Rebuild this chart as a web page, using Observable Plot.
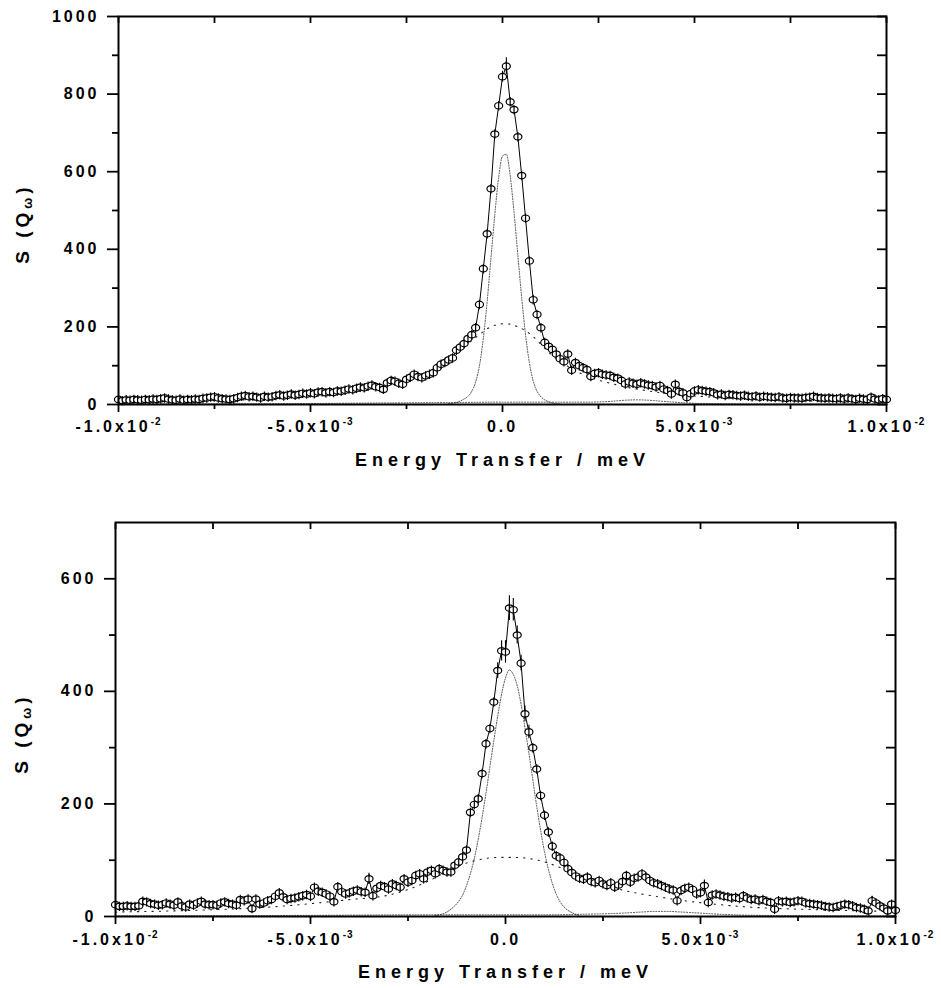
<!DOCTYPE html>
<html>
<head>
<meta charset="utf-8">
<script src="https://cdn.jsdelivr.net/npm/d3@7"></script>
<script src="https://cdn.jsdelivr.net/npm/@observablehq/plot@0.6"></script>
<style>
  html, body { margin: 0; padding: 0; background: #fff; overflow: hidden; }
  #chart svg { display: block; }
</style>
</head>
<body>
<div id="chart"></div>
<script>
// ---------- data ----------
const energyStep = 1e-4;               // meV per channel
const channels = d3.range(-100, 101);  // channel numbers, -0.01 .. 0.01 meV

const xTickValues = [-0.01, -0.005, 0, 0.005, 0.01];
const xTickLabels = ["-1.0x10^-2", "-5.0x10^-3", "0.0", "5.0x10^-3", "1.0x10^-2"];
const xMinorTicks = [-0.0075, -0.0025, 0.0025, 0.0075];
const xAllTicks = [-0.01, -0.0075, -0.005, -0.0025, 0, 0.0025, 0.005, 0.0075, 0.01];

const xTitle = "Energy Transfer / meV";
const yTitle = "S (Qω)";

// top panel
const topYTicks = [0, 200, 400, 600, 800, 1000];
const topYMinor = [100, 300, 500, 700, 900];
const topS = [
  13, 10, 12, 11, 13, 12, 11, 13, 12, 14,
  13, 15, 17, 14, 12, 11, 14, 11, 13, 12,
  14, 13, 16, 17, 19, 20, 17, 15, 14, 13,
  15, 18, 21, 23, 20, 21, 19, 17, 21, 19,
  20, 23, 25, 22, 24, 27, 24, 26, 29, 27,
  30, 28, 32, 33, 30, 33, 31, 35, 34, 37,
  40, 38, 42, 45, 43, 47, 50, 46, 44, 39,
  56, 62, 60, 55, 52, 65, 70, 78, 72, 69,
  74, 78, 82, 95, 104, 108, 115, 120, 140, 148,
  157, 170, 180, 198, 258, 350, 440, 556, 697, 770,
  845,
  872, 780, 760, 690, 590, 480, 370, 270, 232,
  198, 160, 150, 142, 130, 118, 110, 130, 88, 108,
  100, 95, 90, 72, 80, 82, 78, 76, 75, 70,
  68, 62, 53, 58, 55, 52, 56, 53, 50, 49,
  45, 49, 40, 36, 27, 52, 34, 30, 18, 28,
  35, 38, 36, 34, 33, 30, 25, 27, 23, 26,
  25, 23, 22, 24, 21, 20, 22, 19, 21, 20,
  19, 18, 20, 17, 16, 18, 17, 17, 16, 18,
  19, 21, 18, 17, 16, 17, 16, 15, 17, 14,
  17, 15, 13, 16, 14, 13, 19, 14, 12, 15, 13
];
const topElasticCh = d3.range(-14, 16);
const topElastic = [
  2, 3, 5, 9, 14, 21, 34, 58, 100, 170,
  265, 378, 490, 585,
  640,
  645, 590, 495, 385, 275, 180, 108, 60, 34, 20,
  12, 7, 4, 2, 1
];
const topBroadCh = [-100, -80, -60, -40, -30, -20, -16, -12, -10, -8, -6, -4, -2, 0, 2, 4, 6, 8, 10, 12, 16, 20, 30, 40, 60, 80, 100];
const topBroad   = [6, 9, 15, 30, 48, 80, 100, 130, 148, 165, 180, 195, 204, 208, 207, 200, 190, 175, 155, 135, 105, 82, 50, 32, 16, 9, 6];
const topBgCh = [-100, -60, -30, -15, 0, 15, 22, 28, 32, 35, 38, 42, 48, 55, 70, 100];
const topBg   = [1, 2, 4, 5, 6, 6, 6, 8, 11, 12, 11, 8, 4, 2, 1, 1];
const topErrCh = [-1, 0, 1, 2];
const topErr   = [10, 14, 22, 10];

// bottom panel
const bottomYTicks = [0, 200, 400, 600];
const bottomYMinor = [100, 300, 500];
const bottomS = [
  21, 18, 18, 19, 18, 18, 19, 27, 26, 23,
  22, 20, 21, 24, 22, 20, 26, 19, 17, 22,
  20, 24, 27, 22, 21, 21, 20, 24, 26, 23,
  22, 20, 30, 28, 31, 14, 31, 22, 24, 28,
  30, 36, 42, 35, 30, 32, 33, 35, 37, 39,
  36, 52, 45, 43, 40, 36, 26, 53, 44, 40,
  42, 45, 47, 44, 43, 67, 37, 50, 55, 53,
  49, 58, 55, 52, 67, 61, 64, 73, 76, 67,
  79, 82, 76, 85, 82, 79, 79, 91, 97, 106,
  118, 185, 199, 209, 254, 307, 334, 381, 437, 472,
  470,
  548, 545, 500, 450, 360, 328, 300, 262, 215,
  180, 150, 125, 108, 104, 96, 85, 78, 72, 68,
  66, 70, 62, 60, 64, 58, 55, 60, 52, 56,
  62, 73, 61, 68, 70, 76, 70, 64, 60, 58,
  55, 52, 49, 47, 28, 46, 50, 52, 48, 40,
  42, 55, 25, 38, 40, 38, 36, 35, 33, 34,
  32, 37, 33, 30, 31, 28, 30, 27, 25, 13,
  28, 26, 27, 25, 26, 28, 27, 24, 23, 22,
  21, 20, 18, 17, 16, 18, 20, 22, 21, 19,
  16, 15, 13, 10, 28, 24, 19, 15, 10, 22, 11
];
const bottomElasticCh = d3.range(-18, 20);
const bottomElastic = [
  2, 3, 5, 8, 13, 19, 27, 38, 55, 76,
  103, 137, 176, 219, 266, 312, 356, 395, 424,
  438,
  430, 410, 377, 335, 290, 243, 196, 153, 115, 84,
  59, 40, 26, 17, 11, 7, 4, 2
];
const bottomBroadCh = [-100, -80, -60, -40, -30, -20, -15, -10, -6, -2, 2, 6, 10, 15, 20, 30, 40, 60, 80, 100];
const bottomBroad   = [8, 11, 17, 30, 38, 62, 80, 95, 102, 105, 105, 103, 97, 84, 68, 47, 34, 18, 12, 9];
const bottomBgCh = [-100, -50, -20, 10, 20, 30, 35, 38, 42, 45, 50, 55, 65, 100];
const bottomBg   = [1, 2, 3, 3, 4, 6, 8, 9, 9, 8, 6, 4, 2, 1];
const bottomErrCh = [-2, -1, 0, 1, 2, 3, 4, 5, 6, -35, 51, 94];
const bottomErr   = [14, 18, 20, 22, 20, 16, 14, 14, 12, 10, 10, 8];

// ---------- helpers ----------
const series = (ch, vals) => ch.map((c, k) => ({x: c * energyStep, y: vals[k]}));
const errRules = (ch, errs, vals) => ch.map((c, k) => {
  const v = vals[c + 100];
  return {x: c * energyStep, y1: v - errs[k], y2: v + errs[k]};
});

// open ellipse with a vertical error bar through it
const phiSymbol = {
  draw(ctx, size) {
    const r = Math.sqrt(size / Math.PI);
    const rx = r * 1.12, ry = r * 0.9, k = 0.5523;
    ctx.moveTo(rx, 0);
    ctx.bezierCurveTo(rx, ry * k, rx * k, ry, 0, ry);
    ctx.bezierCurveTo(-rx * k, ry, -rx, ry * k, -rx, 0);
    ctx.bezierCurveTo(-rx, -ry * k, -rx * k, -ry, 0, -ry);
    ctx.bezierCurveTo(rx * k, -ry, rx, -ry * k, rx, 0);
    ctx.closePath();
    ctx.moveTo(0, -ry - 1.5);
    ctx.lineTo(0, ry + 1.5);
  }
};

const FONT = "'Liberation Sans', Arial, Helvetica, sans-serif";

function panel(cfg) {
  const data = series(channels, cfg.values);
  const yAll = [...cfg.yTicks, ...cfg.yMinor];
  const svg = Plot.plot({
    width: 941,
    height: cfg.height,
    marginTop: cfg.marginTop,
    marginBottom: cfg.marginBottom,
    marginLeft: cfg.marginLeft,
    marginRight: cfg.marginRight,
    x: {domain: [-0.01, 0.01]},
    y: {domain: [0, cfg.yMax]},
    style: {fontFamily: FONT, fontWeight: "bold", fontSize: "16px", letterSpacing: "3px", background: "white", color: "black", overflow: "visible"},
    marks: [
      Plot.line(series(cfg.broadCh, cfg.broad), {x: "x", y: "y", stroke: "#222", strokeWidth: 1.1, strokeDasharray: "1.3 6", curve: "monotone-x"}),
      Plot.line(series(cfg.bgCh, cfg.bg), {x: "x", y: "y", stroke: "#333", strokeWidth: 0.9, strokeDasharray: "1 1.8", curve: "monotone-x"}),
      Plot.line(series(cfg.elasticCh, cfg.elastic), {x: "x", y: "y", stroke: "#333", strokeWidth: 0.9, strokeDasharray: "1 1.6", curve: "monotone-x"}),
      Plot.line(data, {x: "x", y: "y", stroke: "black", strokeWidth: 1}),
      Plot.ruleX(errRules(cfg.errCh, cfg.err, cfg.values), {x: "x", y1: "y1", y2: "y2", stroke: "black", strokeWidth: 1.1}),
      Plot.dot(data, {x: "x", y: "y", r: 3.6, symbol: phiSymbol, fill: "white", stroke: "black", strokeWidth: 1.2}),
      Plot.frame({stroke: "black", strokeWidth: 2}),
      Plot.axisY(cfg.yTicks, {anchor: "left", tickSize: 11, tickPadding: 8, strokeWidth: 1.8, fontSize: 16, fontWeight: "bold", tickFormat: d => String(d), label: null}),
      Plot.axisY(cfg.yMinor, {anchor: "left", tickSize: 6, strokeWidth: 1.8, tickFormat: () => "", label: null}),
      Plot.axisY(yAll, {anchor: "right", tickSize: -10, strokeWidth: 1.8, tickFormat: () => "", label: null}),
      Plot.axisX(xTickValues, {anchor: "bottom", tickSize: 8, tickPadding: cfg.xPad, strokeWidth: 1.8, fontSize: 16, fontWeight: "bold",
        tickFormat: d => xTickLabels[xTickValues.indexOf(d)], label: null}),
      Plot.axisX(xMinorTicks, {anchor: "bottom", tickSize: 5, strokeWidth: 1.8, tickFormat: () => "", label: null}),
      Plot.axisX(xAllTicks, {anchor: "top", tickSize: -6, strokeWidth: 1.8, tickFormat: () => "", label: null}),
      Plot.text([xTitle], {frameAnchor: "bottom", dy: cfg.titleDy, fontSize: 18, fontWeight: "bold", fill: "black"}),
      Plot.text([yTitle], {frameAnchor: "left", textAnchor: "middle", lineAnchor: "middle", rotate: -90, dx: cfg.yTitleDx, dy: cfg.yTitleDy, fontSize: 19, fontWeight: "bold", fill: "black"})
    ]
  });

  // superscripts in x tick labels, title spacing, subscript omega
  svg.querySelectorAll("text").forEach(t => {
    const s = t.textContent;
    if (s.includes("^")) {
      const [base, exp] = s.split("^");
      t.textContent = "";
      const a = document.createElementNS("http://www.w3.org/2000/svg", "tspan");
      a.textContent = base;
      const b = document.createElementNS("http://www.w3.org/2000/svg", "tspan");
      b.textContent = exp;
      b.setAttribute("font-size", "10");
      b.setAttribute("dy", "-7");
      b.style.letterSpacing = "1px";
      t.appendChild(a); t.appendChild(b);
    } else if (s === xTitle) {
      t.style.letterSpacing = "5px";
    } else if (s === yTitle) {
      t.textContent = "";
      const parts = [["S (Q", null, null], ["ω", "13", "3"], [")", null, "-3"]];
      for (const [txt, fs, dy] of parts) {
        const sp = document.createElementNS("http://www.w3.org/2000/svg", "tspan");
        sp.textContent = txt;
        if (fs) sp.setAttribute("font-size", fs);
        if (dy) sp.setAttribute("dy", dy);
        t.appendChild(sp);
      }
      t.style.letterSpacing = "4px";
    }
  });
  return svg;
}

const chart = document.getElementById("chart");
chart.appendChild(panel({
  values: topS, yMax: 1000, yTicks: topYTicks, yMinor: topYMinor,
  elasticCh: topElasticCh, elastic: topElastic,
  broadCh: topBroadCh, broad: topBroad, bgCh: topBgCh, bg: topBg,
  errCh: topErrCh, err: topErr,
  height: 480, marginTop: 16, marginBottom: 76, marginLeft: 118, marginRight: 55,
  xPad: 8, titleDy: 61, yTitleDx: -96, yTitleDy: 13
}));
chart.appendChild(panel({
  values: bottomS, yMax: 700, yTicks: bottomYTicks, yMinor: bottomYMinor,
  elasticCh: bottomElasticCh, elastic: bottomElastic,
  broadCh: bottomBroadCh, broad: bottomBroad, bgCh: bottomBgCh, bg: bottomBg,
  errCh: bottomErrCh, err: bottomErr,
  height: 508, marginTop: 42, marginBottom: 72, marginLeft: 115, marginRight: 46,
  xPad: 9, titleDy: 61, yTitleDx: -94, yTitleDy: 14
}));
</script>
</body>
</html>
